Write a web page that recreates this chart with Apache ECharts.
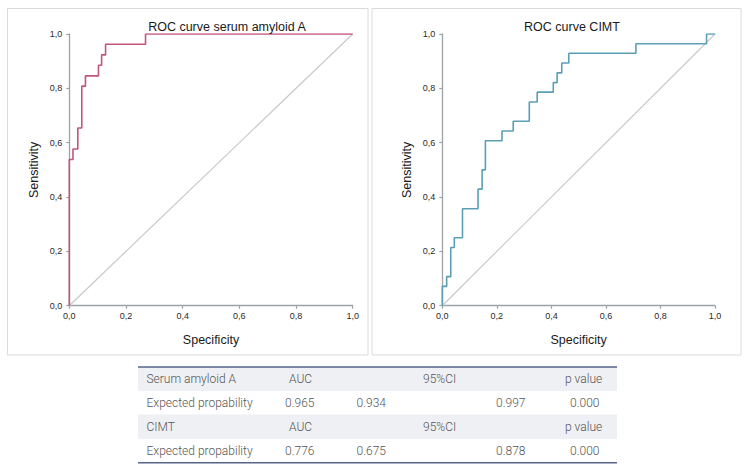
<!DOCTYPE html>
<html>
<head>
<meta charset="utf-8">
<script src="https://cdn.jsdelivr.net/npm/echarts@6/dist/echarts.min.js"></script>
<style>
html,body{margin:0;padding:0;background:#fff;}
#chart{width:750px;height:471px;}
</style>
</head>
<body>
<div id="chart"></div>
<script>
// ---- data ----
var titles = ['ROC curve serum amyloid A', 'ROC curve CIMT'];
var tickValues = [0, 0.2, 0.4, 0.6, 0.8, 1.0];

// Serum amyloid A ROC corner points (x = 1-specificity at the jump, y = new sensitivity level)
var saaX = [0, 0, 0.013, 0.030, 0.044, 0.057, 0.103, 0.114, 0.128, 0.269, 1.0];
var saaY = [0, 0.538, 0.577, 0.654, 0.808, 0.846, 0.885, 0.923, 0.962, 1.0, 1.0];

// CIMT ROC corner points
var cimtX = [0, 0, 0.016, 0.031, 0.044, 0.074, 0.131, 0.146, 0.158, 0.219, 0.260, 0.319, 0.348, 0.407, 0.421, 0.438, 0.464, 0.710, 0.969, 1.0];
var cimtY = [0, 0.071, 0.107, 0.214, 0.250, 0.357, 0.429, 0.500, 0.607, 0.643, 0.679, 0.750, 0.786, 0.821, 0.857, 0.893, 0.929, 0.964, 1.0, 1.0];

var refX = [0, 1];
var refY = [0, 1];

// table
var tableHeaderCols = ['AUC', '95%CI', 'p value'];
var tableGroups = ['Serum amyloid A', 'CIMT'];
var tableRowLabel = 'Expected propability';
var tableAUC = ['0.965', '0.776'];
var tableCILow = ['0.934', '0.675'];
var tableCIHigh = ['0.997', '0.878'];
var tableP = ['0.000', '0.000'];

function pairs(xs, ys) { return xs.map(function (x, i) { return [x, ys[i]]; }); }

var chart = echarts.init(document.getElementById('chart'), null, { renderer: 'svg' });

var FONT = 'Liberation Sans, Arial, sans-serif';
var grids = [
  { left: 69.3, top: 34, width: 283.4, height: 271.7 },
  { left: 442.3, top: 34, width: 272.7, height: 271.7 }
];

function xAxis(i) {
  return {
    gridIndex: i, type: 'value', min: 0, max: 1, interval: 0.2,
    name: 'Specificity', nameLocation: 'middle', nameGap: 28,
    nameTextStyle: { fontFamily: FONT, fontSize: 12.5, color: '#1a1a1a' },
    axisLine: { show: true, lineStyle: { color: '#9da2a8', width: 1.3 } },
    axisTick: { show: true, length: 3, lineStyle: { color: '#9da2a8', width: 1.2 } },
    axisLabel: { fontFamily: FONT, fontSize: 9, color: '#2a2a2a', margin: 6,
      formatter: function (v) { return v.toFixed(1).replace('.', ','); } },
    splitLine: { show: false }
  };
}
function yAxis(i) {
  return {
    gridIndex: i, type: 'value', min: 0, max: 1, interval: 0.2,
    name: 'Sensitivity', nameLocation: 'middle', nameGap: 29,
    nameTextStyle: { fontFamily: FONT, fontSize: 12.5, color: '#1a1a1a' },
    axisLine: { show: true, lineStyle: { color: '#9da2a8', width: 1.3 } },
    axisTick: { show: true, length: 3, lineStyle: { color: '#9da2a8', width: 1.2 } },
    axisLabel: { fontFamily: FONT, fontSize: 9, color: '#2a2a2a', margin: 7,
      formatter: function (v) { return v.toFixed(1).replace('.', ','); } },
    splitLine: { show: false }
  };
}

// table graphics
var tblLeft = 138, tblRight = 617;
var rowTops = [367, 391, 414.5, 439];
var rowH = [24, 23.5, 24.5, 23.5];
var colX = { label: 146.5, auc: 285, lo: 356.5, ci: 423, hi: 496, p: 570 };
var g = [];
// panel borders
g.push({ type: 'rect', shape: { x: 7.5, y: 8.5, width: 360.5, height: 346.5 }, style: { fill: 'none', stroke: '#d9dadc', lineWidth: 1 }, z: -1 });
g.push({ type: 'rect', shape: { x: 372, y: 8.5, width: 369, height: 346.5 }, style: { fill: 'none', stroke: '#d9dadc', lineWidth: 1 }, z: -1 });
var TF = 'Roboto, sans-serif';
function txt(x, y, s, align) {
  return { type: 'text', x: x, y: y, style: { text: s, fill: '#555555', font: '300 12px ' + TF, textAlign: align || 'left', textVerticalAlign: 'middle' } };
}
for (var k = 0; k < 2; k++) {
  var hr = k * 2, dr = k * 2 + 1;
  g.push({ type: 'rect', shape: { x: tblLeft, y: rowTops[hr], width: tblRight - tblLeft, height: rowH[hr] }, style: { fill: '#eef0f4' } });
  var hy = rowTops[hr] + rowH[hr] / 2, dy = rowTops[dr] + rowH[dr] / 2;
  g.push(txt(colX.label, hy, tableGroups[k]));
  g.push(txt(colX.auc + 4, hy, tableHeaderCols[0]));
  g.push(txt(colX.ci, hy, tableHeaderCols[1]));
  g.push(txt(colX.p - 5, hy, tableHeaderCols[2]));
  g.push(txt(colX.label, dy, tableRowLabel));
  g.push(txt(colX.auc, dy, tableAUC[k]));
  g.push(txt(colX.lo, dy, tableCILow[k]));
  g.push(txt(colX.hi, dy, tableCIHigh[k]));
  g.push(txt(colX.p, dy, tableP[k]));
}
g.push({ type: 'line', shape: { x1: tblLeft, y1: 367, x2: tblRight, y2: 367 }, style: { stroke: '#56648a', lineWidth: 1.5 } });
g.push({ type: 'line', shape: { x1: tblLeft, y1: 462.7, x2: tblRight, y2: 462.7 }, style: { stroke: '#56648a', lineWidth: 1.5 } });

var option = {
  animation: false,
  backgroundColor: '#fff',
  title: [
    { text: titles[0], left: 222, top: 15, textAlign: 'center', textStyle: { fontFamily: FONT, fontSize: 12.5, fontWeight: 'normal', color: '#1a1a1a' } },
    { text: titles[1], left: 567, top: 15, textAlign: 'center', textStyle: { fontFamily: FONT, fontSize: 12.5, fontWeight: 'normal', color: '#1a1a1a' } }
  ],
  grid: grids,
  xAxis: [xAxis(0), xAxis(1)],
  yAxis: [yAxis(0), yAxis(1)],
  series: [
    { type: 'line', xAxisIndex: 0, yAxisIndex: 0, data: pairs(refX, refY), showSymbol: false, lineStyle: { color: '#c9c9c9', width: 1.2 }, z: 1 },
    { type: 'line', xAxisIndex: 0, yAxisIndex: 0, step: 'end', data: pairs(saaX, saaY), showSymbol: false, lineStyle: { color: '#c2557a', width: 1.6 }, z: 2 },
    { type: 'line', xAxisIndex: 1, yAxisIndex: 1, data: pairs(refX, refY), showSymbol: false, lineStyle: { color: '#c9c9c9', width: 1.2 }, z: 1 },
    { type: 'line', xAxisIndex: 1, yAxisIndex: 1, step: 'end', data: pairs(cimtX, cimtY), showSymbol: false, lineStyle: { color: '#5a9fb6', width: 1.6 }, z: 2 }
  ],
  graphic: g
};
chart.setOption(option);
</script>
</body>
</html>
